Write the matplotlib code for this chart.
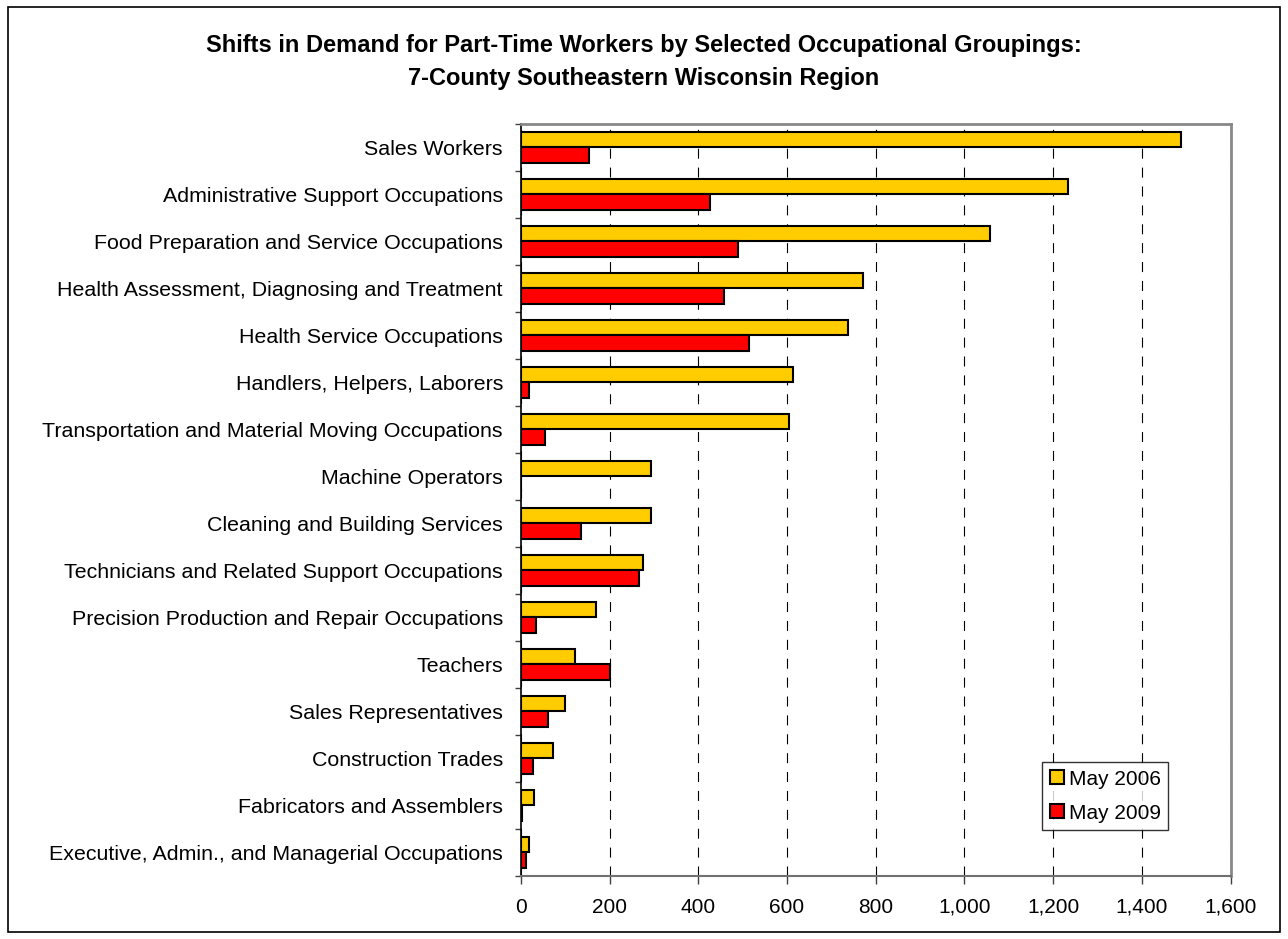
import matplotlib
matplotlib.use("Agg")
import matplotlib.pyplot as plt
import numpy as np
from matplotlib.patches import Rectangle

plt.rcParams['font.family'] = ['Liberation Sans', 'DejaVu Sans']

categories = [
    "Sales Workers",
    "Administrative Support Occupations",
    "Food Preparation and Service Occupations",
    "Health Assessment, Diagnosing and Treatment",
    "Health Service Occupations",
    "Handlers, Helpers, Laborers",
    "Transportation and Material Moving Occupations",
    "Machine Operators",
    "Cleaning and Building Services",
    "Technicians and Related Support Occupations",
    "Precision Production and Repair Occupations",
    "Teachers",
    "Sales Representatives",
    "Construction Trades",
    "Fabricators and Assemblers",
    "Executive, Admin., and Managerial Occupations",
]
may2006 = [1488, 1234, 1058, 772, 737, 614, 605, 294, 294, 275, 169, 121, 100, 73, 30, 18]
may2009 = [154, 426, 489, 458, 515, 17, 53, 0, 135, 265, 33, 200, 61, 26, 2, 12]
series_names = ["May 2006", "May 2009"]
xticks = [0, 200, 400, 600, 800, 1000, 1200, 1400, 1600]
title = ("Shifts in Demand for Part-Time Workers by Selected Occupational Groupings:\n"
         "7-County Southeastern Wisconsin Region")

W, H = 1288, 939
L, R, T, B = 521, 1230.5, 124, 876
fig = plt.figure(figsize=(W / 100, H / 100), dpi=100)
ax = fig.add_axes([L / W, 1 - B / H, (R - L) / W, (B - T) / H])

n = len(categories)
pos = np.arange(n)
bh = 0.33
ax.barh(pos - bh / 2 - 0.005, may2006, height=bh, color="#FFCC00", edgecolor="black",
        linewidth=1.5, label=series_names[0], zorder=3)
ax.barh(pos + bh / 2 - 0.005, may2009, height=bh, color="#FF0000", edgecolor="black",
        linewidth=1.5, label=series_names[1], zorder=3)

ax.set_ylim(n - 0.5, -0.5)
ax.set_xlim(0, 1600)
ax.set_xticks(xticks)
ax.set_xticklabels([f"{v:,}" for v in xticks], fontsize=15)
ax.set_yticks(pos)
ax.set_yticklabels(categories, fontsize=15.4)
ax.tick_params(axis='y', length=0, pad=13)
ax.set_yticks(np.arange(n + 1) - 0.5, minor=True)
ax.tick_params(axis='y', which='minor', length=4, direction='out', width=1, color='#404040')
ax.tick_params(axis='x', length=5.5, direction='out', width=1, pad=10, color='#404040')

ax.grid(axis='x', color='black', linestyle=(0, (9, 8)), linewidth=0.8, zorder=0)
ax.set_axisbelow(True)

for side in ['top', 'right']:
    ax.spines[side].set_color('#888888')
    ax.spines[side].set_linewidth(2)
ax.spines['left'].set_color('black')
ax.spines['left'].set_linewidth(1.2)
ax.spines['bottom'].set_color('#707070')
ax.spines['bottom'].set_linewidth(1.5)

leg = ax.legend(loc='lower right', bbox_to_anchor=((1168 - L) / (R - L), (B - 830) / (B - T)),
                fontsize=15, frameon=True, fancybox=False, edgecolor='black',
                handlelength=0.67, handleheight=0.67, handletextpad=0.25, labelspacing=0.72,
                borderpad=0.35, borderaxespad=0)
leg.get_frame().set_linewidth(1.0)
for p in leg.get_patches():
    p.set_linewidth(1.5)

fig.text(0.5, 1 - 62 / H, title, ha='center', va='center', fontsize=17,
         fontweight='bold', linespacing=1.55)

fig.patches.append(Rectangle((8 / W, 7 / H), (1280 - 8) / W, (932 - 7) / H,
                             transform=fig.transFigure, fill=False, edgecolor='black',
                             linewidth=1.2))

fig.savefig("out.png", dpi=100)
